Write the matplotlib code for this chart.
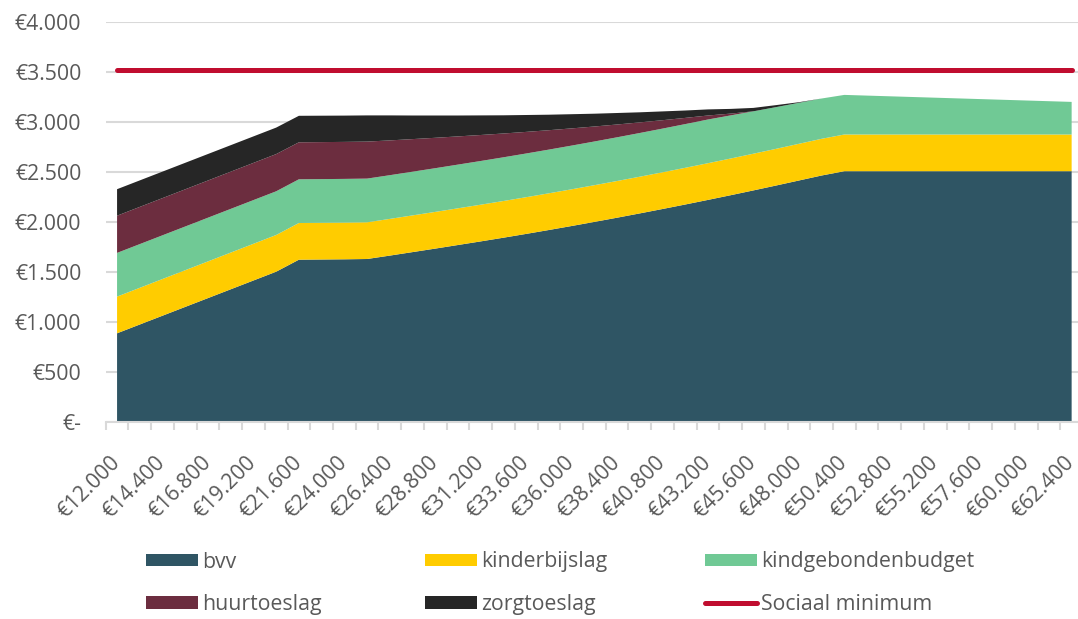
import matplotlib
matplotlib.use("Agg")
import matplotlib.pyplot as plt
from matplotlib.patches import Patch
from matplotlib.lines import Line2D

plt.rcParams['font.family'] = ['Open Sans', 'DejaVu Sans']

# --- data -----------------------------------------------------------------
income = [12000, 13200, 14400, 15600, 16800, 18000, 19200, 20400, 21600, 22800,
          24000, 25200, 26400, 27600, 28800, 30000, 31200, 32400, 33600, 34800,
          36000, 37200, 38400, 39600, 40800, 42000, 43200, 44400, 45600, 46800,
          48000, 49200, 50400, 51600, 52800, 54000, 55200, 56400, 57600, 58800,
          60000, 61200, 62400]

bvv = [884, 972, 1060, 1148, 1236, 1324, 1412, 1500, 1620, 1622,
       1624, 1627, 1661, 1696, 1731, 1767, 1803, 1840, 1878, 1917,
       1957, 1998, 2040, 2083, 2127, 2172, 2218, 2265, 2313, 2362,
       2412, 2462, 2505, 2505, 2505, 2505, 2505, 2505, 2505, 2505,
       2505, 2505, 2505]

kinderbijslag = [367] * 43

kindgebondenbudget = [437, 437, 437, 437, 437, 437, 437, 437, 437, 437,
                      437, 437, 437, 437, 437, 437, 437, 437, 437, 437,
                      437, 437, 437, 437, 437, 437, 437, 431, 424, 417,
                      410, 403, 396, 389, 382, 375, 368, 361, 354, 347,
                      340, 333, 326]

huurtoeslag = [372, 372, 372, 372, 372, 372, 372, 372, 370, 370,
               370, 370, 348, 326, 304, 282, 260, 238, 216, 194,
               172, 150, 128, 106, 84, 62, 40, 18, 0, 0,
               0, 0, 0, 0, 0, 0, 0, 0, 0, 0,
               0, 0, 0]

zorgtoeslag = [265, 265, 265, 265, 265, 265, 265, 265, 265, 264,
               263, 262, 250, 236, 223, 209, 196, 182, 169, 155,
               142, 128, 115, 101, 88, 74, 61, 47, 34, 20,
               6, 0, 0, 0, 0, 0, 0, 0, 0, 0,
               0, 0, 0]

sociaal_minimum = 3515

y_ticks = [0, 500, 1000, 1500, 2000, 2500, 3000, 3500, 4000]

# --- styling --------------------------------------------------------------
C_BVV = '#2F5564'
C_KB = '#FFCC00'
C_KGB = '#70C995'
C_HUUR = '#6C2D3F'
C_ZORG = '#262626'
C_SOC = '#C00D2F'
C_TXT = '#595959'
C_GRID = '#D9D9D9'
FS = 15.3


def euro(v):
    if v == 0:
        return '€-'
    return '€' + f'{v:,}'.replace(',', '.')


W, H = 1078, 619
fig = plt.figure(figsize=(W / 100, H / 100), dpi=100)
left_px, right_px = 105.7, 1083.0
top_px, bot_px = 21.7, 421.7
ax = fig.add_axes([left_px / W, (H - bot_px) / H,
                   (right_px - left_px) / W, (bot_px - top_px) / H])

x = list(range(len(income)))
ax.stackplot(x, bvv, kinderbijslag, kindgebondenbudget, huurtoeslag, zorgtoeslag,
             colors=[C_BVV, C_KB, C_KGB, C_HUUR, C_ZORG], linewidth=0, zorder=2)
ax.plot(x, [sociaal_minimum] * len(x), color=C_SOC, lw=3.6,
        solid_capstyle='round', zorder=3)

ax.set_xlim(-0.5, len(income) - 0.5)
ax.set_ylim(0, 4000)

ax.set_yticks(y_ticks)
ax.set_yticklabels([euro(v) for v in y_ticks], fontsize=FS, color=C_TXT)
ax.tick_params(axis='y', length=0, pad=17.5)
ax.yaxis.grid(True, color=C_GRID, lw=1.5, zorder=0)
ax.set_axisbelow(True)

lab_idx = x[::2]
ax.set_xticks(lab_idx)
ax.set_xticklabels([euro(income[i]) for i in lab_idx], fontsize=FS, color=C_TXT,
                   rotation=45, ha='right', va='center', rotation_mode='anchor')
ax.tick_params(axis='x', which='major', length=0, pad=27)
ax.set_xticks([i - 0.5 for i in range(len(income) + 1)], minor=True)
ax.tick_params(axis='x', which='minor', length=6, width=1.5, color=C_GRID,
               direction='out')

for s in ['top', 'right', 'left']:
    ax.spines[s].set_visible(False)
ax.spines['bottom'].set_color(C_GRID)
ax.spines['bottom'].set_linewidth(1.5)

# --- legend (row-major, three columns) -------------------------------------
cols = [
    [(Patch(facecolor=C_BVV), 'bvv'), (Patch(facecolor=C_HUUR), 'huurtoeslag')],
    [(Patch(facecolor=C_KB), 'kinderbijslag'), (Patch(facecolor=C_ZORG), 'zorgtoeslag')],
    [(Patch(facecolor=C_KGB), 'kindgebondenbudget'),
     (Line2D([], [], color=C_SOC, lw=3.6, solid_capstyle='round'), 'Sociaal minimum')],
]
col_x = [146, 425, 705]
for cx, items in zip(col_x, cols):
    leg = fig.legend([h for h, _ in items], [t for _, t in items],
                     loc='upper left', bbox_to_anchor=(cx / W, 1 - 551.5 / H),
                     frameon=False, fontsize=FS, handlelength=2.45,
                     handleheight=0.56, handletextpad=0.2, labelspacing=1.0,
                     borderpad=0, borderaxespad=0, labelcolor=C_TXT)

fig.savefig('out.png', dpi=100)
